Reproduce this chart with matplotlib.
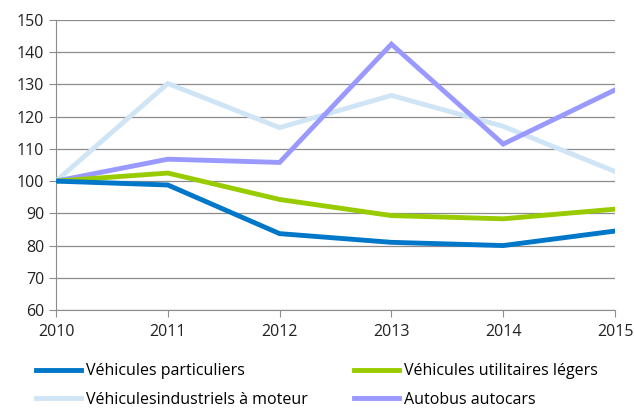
import matplotlib
matplotlib.use("Agg")
import matplotlib.pyplot as plt

years = [2010, 2011, 2012, 2013, 2014, 2015]
particuliers = [100, 98.8, 83.7, 81.0, 80.0, 84.5]
utilitaires = [100, 102.5, 94.3, 89.3, 88.3, 91.3]
industriels = [100, 130.3, 116.6, 126.6, 117.0, 103.0]
autobus = [100, 106.8, 105.8, 142.5, 111.5, 128.3]

labels = ["Véhicules particuliers", "Véhicules utilitaires légers",
          "Véhiculesindustriels à moteur", "Autobus autocars"]
colors = ["#0077c8", "#99cc00", "#cfe5f5", "#9999ff"]

plt.rcParams['font.family'] = ['Open Sans', 'DejaVu Sans']
fig = plt.figure(figsize=(6.34, 4.12), dpi=100)
ax = fig.add_axes([56/634, 1-310/412, (615-56)/634, (310-20)/412])

series = [particuliers, utilitaires, industriels, autobus]
order = [2, 3, 1, 0]
lines = {}
for i in order:
    l, = ax.plot(years, series[i], color=colors[i], lw=3.5, label=labels[i],
                 solid_joinstyle='miter', zorder=3)
    lines[i] = l

ax.set_xlim(2010, 2015)
ax.set_ylim(60, 150)
ax.set_yticks(range(60, 151, 10))
ax.set_xticks(years)
ax.grid(axis='y', color='#8c8c8c', lw=0.9)
for s in ['top', 'right']:
    ax.spines[s].set_visible(False)
for s in ['left', 'bottom']:
    ax.spines[s].set_color('#8c8c8c')
ax.tick_params(axis='both', colors='#8c8c8c', labelcolor='#222222', labelsize=11.5, length=5)
ax.tick_params(axis='x', pad=5)

leg_order = [0, 2, 1, 3]
fig.legend([lines[i] for i in leg_order], [labels[i] for i in leg_order], ncol=2,
           loc='lower left', bbox_to_anchor=(22/634, -0.025), frameon=False, fontsize=11.5,
           handlelength=2.8, handletextpad=0.3, columnspacing=2.9, labelspacing=0.8)

fig.savefig("out.png", dpi=100)
